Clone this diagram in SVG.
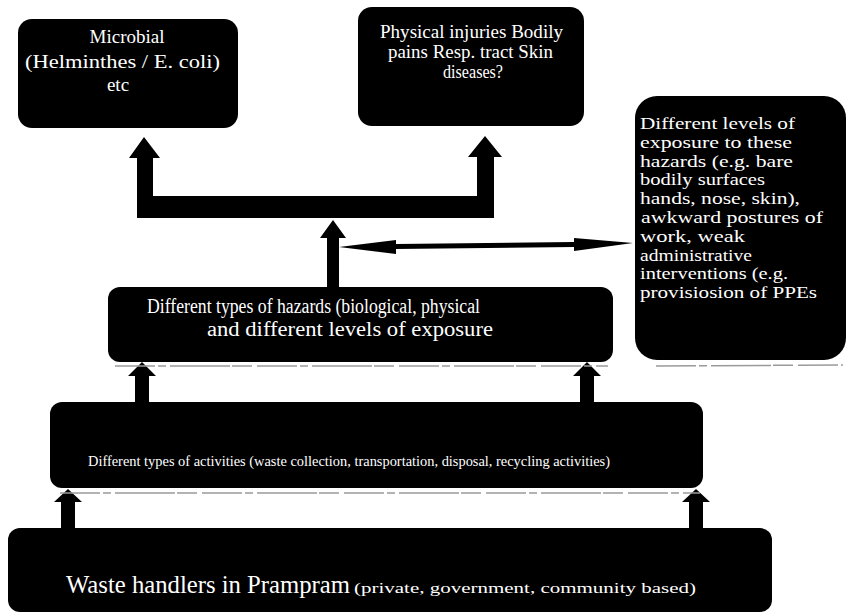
<svg xmlns="http://www.w3.org/2000/svg" width="848" height="613" viewBox="0 0 848 613">
<style>
.box{fill:#000;}
.t{font-family:"Liberation Serif","DejaVu Serif",serif;fill:#fff;}
.c{font-size:17px;}
.arr{fill:#000;}
.gl{stroke:#9a9a9a;stroke-width:1.5;fill:none;stroke-dasharray:40 3 8 4 60 2 20 5;}
</style>
<rect width="848" height="613" fill="#fff"/>
<g id="microbial">
<rect class="box" x="18" y="19" width="220" height="109" rx="14"/>
<text class="t" font-size="19" text-anchor="middle" x="127" y="43">Microbial</text>
<text class="t" font-size="19" x="25" y="68" textLength="195" lengthAdjust="spacingAndGlyphs">(Helminthes / E. coli)</text>
<text class="t" font-size="19" text-anchor="middle" x="118" y="91">etc</text>
</g>
<g id="physical">
<rect class="box" x="358" y="7" width="226" height="119" rx="14"/>
<text class="t" font-size="18" x="380" y="38" textLength="183" lengthAdjust="spacingAndGlyphs">Physical injuries Bodily</text>
<text class="t" font-size="18" x="388" y="58" textLength="165" lengthAdjust="spacingAndGlyphs">pains Resp. tract Skin</text>
<text class="t" font-size="18" x="443" y="78" textLength="60" lengthAdjust="spacingAndGlyphs">diseases?</text>
</g>
<g id="exposure">
<rect class="box" x="635" y="96" width="211" height="264" rx="22"/>
<text class="t c" x="640" y="129" textLength="155" lengthAdjust="spacingAndGlyphs">Different levels of</text>
<text class="t c" x="640" y="148" textLength="152" lengthAdjust="spacingAndGlyphs">exposure to these</text>
<text class="t c" x="640" y="167" textLength="153" lengthAdjust="spacingAndGlyphs">hazards (e.g. bare</text>
<text class="t c" x="640" y="185" textLength="125" lengthAdjust="spacingAndGlyphs">bodily surfaces</text>
<text class="t c" x="640" y="204" textLength="160" lengthAdjust="spacingAndGlyphs">hands, nose, skin),</text>
<text class="t c" x="641" y="223" textLength="182" lengthAdjust="spacingAndGlyphs">awkward postures of</text>
<text class="t c" x="640" y="242" textLength="105" lengthAdjust="spacingAndGlyphs">work, weak</text>
<text class="t c" x="640" y="261" textLength="112" lengthAdjust="spacingAndGlyphs">administrative</text>
<text class="t c" x="640" y="279" textLength="148" lengthAdjust="spacingAndGlyphs">interventions (e.g.</text>
<text class="t c" x="640" y="298" textLength="177" lengthAdjust="spacingAndGlyphs">provisiosion of PPEs</text>
</g>
<g id="hazards">
<rect class="box" x="108" y="287" width="505" height="75" rx="12"/>
<text class="t" font-size="20" x="147" y="313" textLength="333" lengthAdjust="spacingAndGlyphs">Different types of hazards (biological, physical</text>
<text class="t" font-size="20" x="207" y="336" textLength="286" lengthAdjust="spacingAndGlyphs">and different levels of exposure</text>
</g>
<g id="activities">
<rect class="box" x="50" y="402" width="653" height="86" rx="12"/>
<text class="t" font-size="14" x="88" y="466" textLength="522" lengthAdjust="spacingAndGlyphs">Different types of activities (waste collection, transportation, disposal, recycling activities)</text>
</g>
<g id="handlers">
<rect class="box" x="8" y="528" width="764" height="84" rx="12"/>
<text class="t" font-size="26" x="66" y="593" textLength="284" lengthAdjust="spacingAndGlyphs">Waste handlers in Prampram</text>
<text class="t" font-size="15" x="354" y="593" textLength="342" lengthAdjust="spacingAndGlyphs">(private, government, community based)</text>
</g>
<g id="connectors">
<path class="arr" d="M144,137 L160,158 L153,158 L153,196 L477,196 L477,157 L468,157 L485,136 L502,157 L494,157 L494,218 L137,218 L137,158 L129,158 Z"/>
<path class="arr" d="M333,220 L346,238 L339,238 L339,287 L327,287 L327,238 L320,238 Z"/>
<path class="arr" d="M339,247 L396,240 L396,244 L574,242 L574,238 L633,243 L574,251 L574,247 L396,249 L396,254 Z"/>
<path class="arr" d="M142,362 L156,376 L149,376 L149,404 L135,404 L135,376 L128,376 Z"/>
<path class="arr" d="M587,362 L601,376 L594,376 L594,404 L580,404 L580,376 L573,376 Z"/>
<path class="arr" d="M68,489 L82,502 L75,502 L75,528 L61,528 L61,502 L54,502 Z"/>
<path class="arr" d="M696,489 L710,502 L703,502 L703,528 L689,528 L689,502 L682,502 Z"/>
<line class="gl" x1="115" y1="366" x2="608" y2="366"/>
<line class="gl" x1="60" y1="493" x2="700" y2="493"/>
<line class="gl" x1="656" y1="366" x2="843" y2="365"/>
</g>
</svg>
